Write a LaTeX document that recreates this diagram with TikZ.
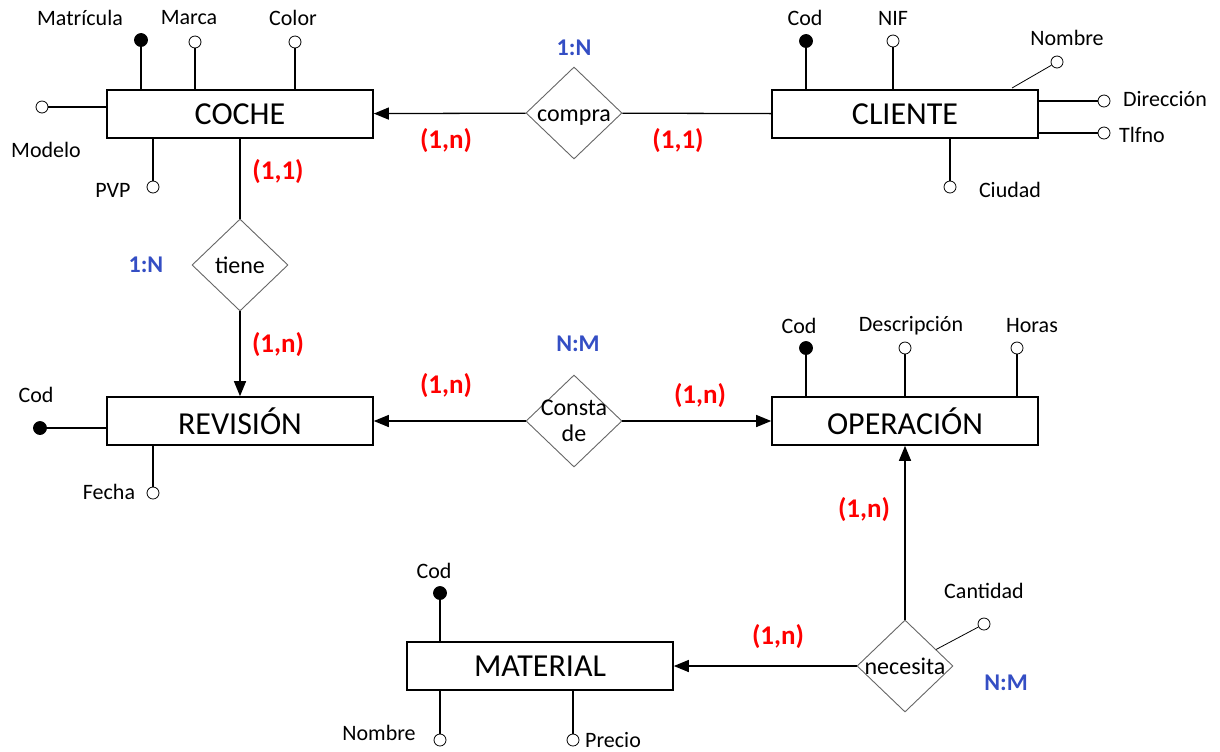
\documentclass[tikz,border=0pt]{standalone}
\usepackage{fontspec}
\setmainfont{Carlito}
\usetikzlibrary{shapes.geometric,arrows.meta,positioning}
\definecolor{cardred}{RGB}{255,0,0}
\definecolor{ratioblue}{RGB}{52,78,196}
\tikzset{
	entity/.style={
		rectangle,
		draw=black,
		line width=0.8pt,
		fill=white,
		minimum width=133pt,
		minimum height=24pt,
		inner sep=0pt,
		font=\fontsize{16}{18}\selectfont,
	},
	relation/.style={
		diamond,
		draw=black!60,
		line width=0.45pt,
		fill=white,
		minimum width=48pt,
		minimum height=46pt,
		inner sep=-4pt,
		align=center,
		font=\fontsize{12}{13}\selectfont,
	},
	oneline/.style={text height=9pt, text depth=1pt},
	attr/.style={
		circle,
		draw=black,
		line width=0.4pt,
		fill=white,
		minimum size=6pt,
		inner sep=0pt,
	},
	keyattr/.style={attr, fill=black, minimum size=6.5pt},
	attrname/.style={font=\fontsize{11}{12}\selectfont, inner sep=0pt},
	card/.style={text=cardred, font=\bfseries\fontsize{13.5}{15}\selectfont, inner sep=0pt},
	ratio/.style={text=ratioblue, font=\bfseries\fontsize{12}{14}\selectfont, inner sep=0pt},
	link/.style={line width=0.65pt},
	tolink/.style={link, -{Triangle[length=7.5pt,width=6pt]}},
}

\begin{document}
\begin{tikzpicture}[x=0.5pt,y=-0.5pt]
	\useasboundingbox (0,0) rectangle (1220,751);

	% entidades
	\node [entity] (coche) at (240,114) {COCHE};
	\node [entity] (cliente) at (905,114) {CLIENTE};
	\node [entity] (revision) at (240,421) {REVISIÓN};
	\node [entity] (operacion) at (905,421) {OPERACIÓN};
	\node [entity] (material) at (540,666) {MATERIAL};

	% relaciones
	\node [relation,oneline] (compra) at (574,113) {compra};
	\node [relation,oneline] (tiene) at (240,265) {tiene};
	\node [relation] (consta) at (574,421) {Consta\\de};
	\node [relation,oneline] (necesita) at (905,666) {necesita};

	\draw[tolink] (compra) -- (coche);
	\draw[link] (cliente) -- (compra);
	\draw[link] (coche) -- (tiene);
	\draw[tolink] (tiene) -- (revision);
	\draw[tolink] (consta) -- (revision);
	\draw[tolink] (consta) -- (operacion);
	\draw[tolink] (necesita) -- (operacion);
	\draw[tolink] (necesita) -- (material);

	% cardinalidades
	\node [ratio] (r-compra) at (574,48) {1:N};
	\node [card] (c-compra-coche) at (446,141) {(1,n)};
	\node [card] (c-compra-cliente) at (678,141) {(1,1)};
	\node [ratio] (r-tiene) at (146,265) {1:N};
	\node [card] (c-tiene-coche) at (278,172) {(1,1)};
	\node [card] (c-tiene-revision) at (278,345) {(1,n)};
	\node [ratio] (r-consta) at (578,344) {N:M};
	\node [card] (c-consta-revision) at (446,386) {(1,n)};
	\node [card] (c-consta-operacion) at (700,396) {(1,n)};
	\node [ratio] (r-necesita) at (1006,683) {N:M};
	\node [card] (c-necesita-operacion) at (864,510) {(1,n)};
	\node [card] (c-necesita-material) at (778,637) {(1,n)};

	% atributos de COCHE
	\node [keyattr] (matricula) at (141,40) {};
	\node [attr] (marca) at (195,42) {};
	\node [attr] (color) at (295,42) {};
	\node [attr] (modelo) at (42,107) {};
	\node [attr] (pvp) at (153,187) {};
	\draw[link] (coche.north -| matricula) -- (matricula);
	\draw[link] (coche.north -| marca) -- (marca);
	\draw[link] (coche.north -| color) -- (color);
	\draw[link] (coche.west |- modelo) -- (modelo);
	\draw[link] (coche.south -| pvp) -- (pvp);
	\node [attrname] (t-matricula) at (80,18) {Matrícula};
	\node [attrname] (t-marca) at (189,18) {Marca};
	\node [attrname] (t-color) at (293,18) {Color};
	\node [attrname] (t-modelo) at (46,150) {Modelo};
	\node [attrname] (t-pvp) at (113,190) {PVP};

	% atributos de CLIENTE
	\node [keyattr] (cli-cod) at (806,41) {};
	\node [attr] (nif) at (893,41) {};
	\node [attr] (nombre) at (1057,62) {};
	\node [attr] (direccion) at (1104,101) {};
	\node [attr] (tlfno) at (1104,133) {};
	\node [attr] (ciudad) at (950,187) {};
	\coordinate (cli-nombre) at (1012,88);
	\draw[link] (cliente.north -| cli-cod) -- (cli-cod);
	\draw[link] (cliente.north -| nif) -- (nif);
	\draw[line width=0.4pt] (cli-nombre) -- (nombre);
	\draw[link] (cliente.east |- direccion) -- (direccion);
	\draw[link] (cliente.east |- tlfno) -- (tlfno);
	\draw[link] (cliente.south -| ciudad) -- (ciudad);
	\node [attrname] (t-cli-cod) at (805,18) {Cod};
	\node [attrname] (t-nif) at (893,18) {NIF};
	\node [attrname] (t-nombre) at (1067,38) {Nombre};
	\node [attrname] (t-direccion) at (1165,99) {Dirección};
	\node [attrname] (t-tlfno) at (1142,135) {Tlfno};
	\node [attrname] (t-ciudad) at (1010,190) {Ciudad};

	% atributos de REVISION
	\node [keyattr] (rev-cod) at (40,428) {};
	\node [attr] (fecha) at (153,493) {};
	\draw[link] (revision.west |- rev-cod) -- (rev-cod);
	\draw[link] (revision.south -| fecha) -- (fecha);
	\node [attrname] (t-rev-cod) at (36,395) {Cod};
	\node [attrname] (t-fecha) at (109,492) {Fecha};

	% atributos de OPERACION
	\node [keyattr] (op-cod) at (806,348) {};
	\node [attr] (descripcion) at (905,348) {};
	\node [attr] (horas) at (1017,348) {};
	\draw[link] (operacion.north -| op-cod) -- (op-cod);
	\draw[link] (operacion.north -| descripcion) -- (descripcion);
	\draw[link] (operacion.north -| horas) -- (horas);
	\node [attrname] (t-op-cod) at (799,326) {Cod};
	\node [attrname] (t-descripcion) at (911,326) {Descripción};
	\node [attrname] (t-horas) at (1032,326) {Horas};

	% atributos de MATERIAL y de necesita
	\node [keyattr] (mat-cod) at (440,593) {};
	\node [attr] (mat-nombre) at (440,740) {};
	\node [attr] (precio) at (573,740) {};
	\node [attr] (cantidad) at (984,624) {};
	\draw[link] (material.north -| mat-cod) -- (mat-cod);
	\draw[link] (material.south -| mat-nombre) -- (mat-nombre);
	\draw[link] (material.south -| precio) -- (precio);
	\draw[line width=0.4pt] (necesita) -- (cantidad);
	\node [attrname] (t-mat-cod) at (434,571) {Cod};
	\node [attrname] (t-mat-nombre) at (379,733) {Nombre};
	\node [attrname] (t-precio) at (613,740) {Precio};
	\node [attrname] (t-cantidad) at (984,591) {Cantidad};
\end{tikzpicture}
\end{document}
